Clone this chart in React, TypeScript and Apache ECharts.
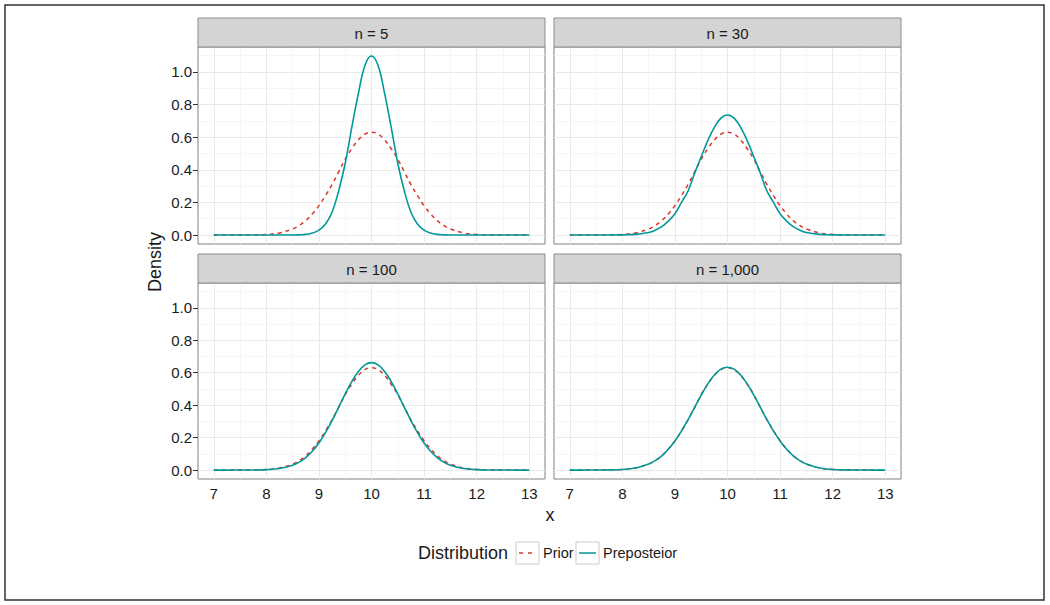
import React, { useEffect, useRef } from "react";
import * as echarts from "echarts";

// ---------- data ----------
const xs = [7, 7.25, 7.5, 7.75, 8, 8.25, 8.5, 8.625, 8.75, 8.875, 9, 9.125, 9.25, 9.375, 9.5, 9.625, 9.75, 9.875, 10, 10.125, 10.25, 10.375, 10.5, 10.625, 10.75, 10.875, 11, 11.125, 11.25, 11.375, 11.5, 11.75, 12, 12.25, 12.5, 12.75, 13];

const priorDensity = [0, 0, 0, 0.001, 0.004, 0.013, 0.037, 0.059, 0.088, 0.13, 0.18, 0.242, 0.31, 0.387, 0.465, 0.529, 0.583, 0.619, 0.631, 0.619, 0.583, 0.529, 0.465, 0.387, 0.31, 0.242, 0.18, 0.13, 0.088, 0.059, 0.037, 0.013, 0.004, 0.001, 0, 0, 0];
const post5 = [0, 0, 0, 0, 0, 0, 0, 0.001, 0.004, 0.012, 0.03, 0.068, 0.14, 0.27, 0.44, 0.66, 0.867, 1.04, 1.098, 1.04, 0.867, 0.66, 0.44, 0.27, 0.14, 0.068, 0.03, 0.012, 0.004, 0.001, 0, 0, 0, 0, 0, 0, 0];
const post30 = [0, 0, 0, 0, 0.001, 0.004, 0.015, 0.029, 0.051, 0.085, 0.13, 0.2, 0.27, 0.379, 0.48, 0.579, 0.66, 0.717, 0.736, 0.717, 0.66, 0.579, 0.48, 0.379, 0.27, 0.2, 0.13, 0.085, 0.051, 0.029, 0.015, 0.004, 0.001, 0, 0, 0, 0];
const post100 = [0, 0, 0.0001, 0.0006, 0.0027, 0.0097, 0.03, 0.049, 0.077, 0.116, 0.167, 0.231, 0.305, 0.387, 0.469, 0.545, 0.607, 0.648, 0.662, 0.648, 0.607, 0.545, 0.469, 0.387, 0.305, 0.231, 0.167, 0.116, 0.077, 0.049, 0.03, 0.0097, 0.0027, 0.0006, 0.0001, 0, 0];
const post1000 = [0, 0, 0.0002, 0.001, 0.004, 0.013, 0.037, 0.058, 0.088, 0.128, 0.179, 0.241, 0.311, 0.387, 0.462, 0.531, 0.586, 0.622, 0.634, 0.622, 0.586, 0.531, 0.462, 0.387, 0.311, 0.241, 0.179, 0.128, 0.088, 0.058, 0.037, 0.013, 0.004, 0.001, 0.0002, 0, 0];

const panelLabels = ["n = 5", "n = 30", "n = 100", "n = 1,000"];
const posteriors = [post5, post30, post100, post1000];
const seriesNames = ["Prior", "Preposteior"];

const xTicks = [7, 8, 9, 10, 11, 12, 13];
const xMinor = [7.5, 8.5, 9.5, 10.5, 11.5, 12.5];
const yTicks = [0, 0.2, 0.4, 0.6, 0.8, 1.0];
const yMinor = [0.1, 0.3, 0.5, 0.7, 0.9, 1.1];

// ---------- styling / layout ----------
const FONT = "Liberation Sans, Arial, Helvetica, sans-serif";
const RED = "#D9372C";
const TEAL = "#00989B";
const TEXT = "#1a1a1a";
const lefts = [198, 554];
const tops = [47, 283];
const PW = 347;
const PH = 197;
const STRIP_H = 29;

function zip(a: number[], b: number[]) {
  return a.map((v, i) => [v, b[i]]);
}

export default function App() {
  const ref = useRef<HTMLDivElement>(null);

  useEffect(() => {
    document.body.style.margin = "0";
    const chart = echarts.init(ref.current!, null, { renderer: "svg" });

    const grids: any[] = [];
    const xAxes: any[] = [];
    const yAxes: any[] = [];
    const series: any[] = [];
    const graphics: any[] = [];

    const minorStyle = { color: "#f2f2f2", width: 0.7, type: "solid" };
    const majorStyle = { color: "#e9e9e9", width: 1, type: "solid" };
    const gridLines = [
      ...xMinor.map((v) => ({ xAxis: v, lineStyle: minorStyle })),
      ...yMinor.map((v) => ({ yAxis: v, lineStyle: minorStyle })),
      ...xTicks.map((v) => ({ xAxis: v, lineStyle: majorStyle })),
      ...yTicks.map((v) => ({ yAxis: v, lineStyle: majorStyle })),
    ];

    for (let p = 0; p < 4; p++) {
      const col = p % 2;
      const row = Math.floor(p / 2);
      const left = lefts[col];
      const top = tops[row];
      const h = row === 0 ? PH : PH - 1;
      grids.push({
        left,
        top,
        width: PW,
        height: h,
        show: true,
        borderColor: "#808080",
        borderWidth: 1,
        backgroundColor: "#ffffff",
        containLabel: false,
      });
      const showX = row === 1;
      const showY = col === 0;
      xAxes.push({
        type: "value",
        gridIndex: p,
        min: 6.7,
        max: 13.3,
        axisLine: { show: false },
        splitLine: { show: false },
        axisTick: {
          show: showX,
          length: 5,
          customValues: xTicks,
          lineStyle: { color: "#333333", width: 1 },
        },
        axisLabel: {
          show: showX,
          customValues: xTicks,
          margin: 7,
          fontSize: 15,
          color: TEXT,
          fontFamily: FONT,
        },
      });
      yAxes.push({
        type: "value",
        gridIndex: p,
        min: -0.055,
        max: 1.153,
        axisLine: { show: false },
        splitLine: { show: false },
        axisTick: {
          show: showY,
          length: 5,
          customValues: yTicks,
          lineStyle: { color: "#333333", width: 1 },
        },
        axisLabel: {
          show: showY,
          customValues: yTicks,
          margin: 6,
          fontSize: 15,
          color: TEXT,
          fontFamily: FONT,
          formatter: (v: number) => v.toFixed(1),
        },
      });
      series.push({
        name: seriesNames[0],
        type: "line",
        xAxisIndex: p,
        yAxisIndex: p,
        data: zip(xs, priorDensity),
        smooth: 0.4,
        showSymbol: false,
        symbol: "none",
        z: 2,
        lineStyle: { color: RED, width: 1.5, type: [4, 4] },
        markLine: {
          silent: true,
          z: 1,
          symbol: ["none", "none"],
          label: { show: false },
          emphasis: { disabled: true },
          data: gridLines,
        },
      });
      series.push({
        name: seriesNames[1],
        type: "line",
        xAxisIndex: p,
        yAxisIndex: p,
        data: zip(xs, posteriors[p]),
        smooth: 0.4,
        showSymbol: false,
        symbol: "none",
        z: 3,
        lineStyle: { color: TEAL, width: 1.6 },
      });

      const stripTop = top - STRIP_H;
      graphics.push({
        type: "rect",
        shape: { x: left, y: stripTop, width: PW, height: STRIP_H },
        style: { fill: "#d4d4d4", stroke: "#8c8c8c", lineWidth: 1 },
        z: 10,
      });
      graphics.push({
        type: "text",
        x: left + PW / 2,
        y: stripTop + STRIP_H / 2 + 1,
        style: {
          text: panelLabels[p],
          fill: TEXT,
          font: `15px ${FONT}`,
          textAlign: "center",
          textVerticalAlign: "middle",
        },
        z: 11,
      });
    }

    // outer border
    graphics.push({
      type: "rect",
      shape: { x: 5, y: 5, width: 1039, height: 595 },
      style: { fill: "none", stroke: "#333333", lineWidth: 1.5 },
      z: 20,
    });
    // axis titles
    graphics.push({
      type: "text",
      x: 155,
      y: 262,
      rotation: Math.PI / 2,
      style: {
        text: "Density",
        fill: TEXT,
        font: `18px ${FONT}`,
        textAlign: "center",
        textVerticalAlign: "middle",
      },
    });
    graphics.push({
      type: "text",
      x: 550,
      y: 515,
      style: {
        text: "x",
        fill: TEXT,
        font: `18px ${FONT}`,
        textAlign: "center",
        textVerticalAlign: "middle",
      },
    });
    // legend
    const legY = 553;
    graphics.push({
      type: "text",
      x: 508,
      y: legY,
      style: {
        text: "Distribution",
        fill: TEXT,
        font: `18px ${FONT}`,
        textAlign: "right",
        textVerticalAlign: "middle",
      },
    });
    const keys = [
      { x: 516, color: RED, dash: [4, 5], label: seriesNames[0] },
      { x: 576, color: TEAL, dash: null, label: seriesNames[1] },
    ];
    keys.forEach((k) => {
      graphics.push({
        type: "rect",
        shape: { x: k.x, y: legY - 11, width: 23, height: 22 },
        style: { fill: "#ffffff", stroke: "#cccccc", lineWidth: 1 },
      });
      graphics.push({
        type: "line",
        shape: { x1: k.x + 3, y1: legY, x2: k.x + 20, y2: legY },
        style: { stroke: k.color, lineWidth: 1.5, lineDash: k.dash || undefined },
      });
      graphics.push({
        type: "text",
        x: k.x + 27,
        y: legY,
        style: {
          text: k.label,
          fill: TEXT,
          font: `14.5px ${FONT}`,
          textAlign: "left",
          textVerticalAlign: "middle",
        },
      });
    });

    chart.setOption({
      animation: false,
      backgroundColor: "#ffffff",
      textStyle: { fontFamily: FONT },
      grid: grids,
      xAxis: xAxes,
      yAxis: yAxes,
      series,
      graphic: graphics,
    });

    return () => chart.dispose();
  }, []);

  return <div ref={ref} style={{ width: 1050, height: 605 }} />;
}
